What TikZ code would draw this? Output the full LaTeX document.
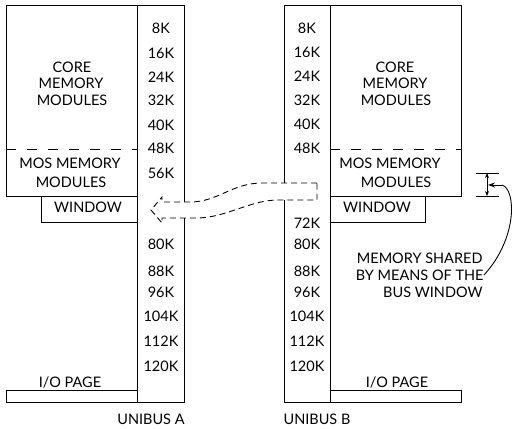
\documentclass[tikz,border=0pt]{standalone}
\usepackage{fontspec}
\setmainfont{Lato}
\usetikzlibrary{arrows.meta}
\begin{document}
\begin{tikzpicture}[x=1pt,y=-1pt,line width=1pt,
  lbl/.style={font=\fontsize{14.5}{16}\selectfont,inner sep=0pt,text height=10.4pt,text depth=0pt},
  box/.style={draw,line width=1pt},
  sep/.style={dash pattern=on 10pt off 11pt},
  flow/.style={dash pattern=on 6pt off 4pt,line width=0.9pt},
  dim/.style={line width=0.9pt}]
\fill[white] (0,0) rectangle (515,429);
\useasboundingbox (0,0) rectangle (515,429);
% ---------- Unibus A side ----------
\node[box,anchor=north west,minimum width=131pt,minimum height=191pt,inner sep=0pt] (coreA) at (6,5) {};
\node[box,anchor=north west,minimum width=96pt,minimum height=26pt,inner sep=0pt] (winA) at (41,196) {};
\node[box,anchor=north west,minimum width=131pt,minimum height=12pt,inner sep=0pt] (ioA) at (6,390) {};
\coordinate (busAtl) at (137,5);
\coordinate (busAtr) at (184,5);
\coordinate (busAbl) at (137,402);
\coordinate (busAbr) at (184,402);
\coordinate (gapAt) at (184,202);
\coordinate (gapAb) at (184,218);
\draw (gapAt) -- (busAtr) -- (busAtl) -- (busAbl) -- (busAbr) -- (gapAb);
\draw[sep] (6,149) -- (137,149);
% ---------- Unibus B side ----------
\node[box,anchor=north west,minimum width=131pt,minimum height=191pt,inner sep=0pt] (coreB) at (330,5) {};
\node[box,anchor=north west,minimum width=95pt,minimum height=26pt,inner sep=0pt] (winB) at (330,196) {};
\node[box,anchor=north west,minimum width=131pt,minimum height=12pt,inner sep=0pt] (ioB) at (330,390) {};
\coordinate (busBtl) at (284,5);
\coordinate (busBtr) at (330,5);
\coordinate (busBbl) at (284,402);
\coordinate (busBbr) at (330,402);
\coordinate (gapBt) at (284,183);
\coordinate (gapBb) at (284,200);
\draw (gapBt) -- (busBtl) -- (busBtr) -- (busBbr) -- (busBbl) -- (gapBb);
\draw[sep] (330,149) -- (461,149);
% ---------- window transfer arrow ----------
\draw[flow] (317,183) -- (gapBt) -- (262,183) .. controls (232,183) and (218,202) .. (190,202) -- (gapAt)
  -- (162,202) -- (162,197) -- (151,210) -- (162,223) -- (162,218) -- (gapAb)
  -- (196,218) .. controls (226,218) and (250,200) .. (278,200) -- (gapBb) -- (317,200) -- cycle;
% ---------- texts A ----------
\node[lbl] (cA1) at (72,67) {CORE};
\node[lbl] (cA2) at (71,83.5) {MEMORY};
\node[lbl] (cA3) at (72,100) {MODULES};
\node[lbl] (mA1) at (70,163) {MOS MEMORY};
\node[lbl] (mA2) at (71,182) {MODULES};
\node[lbl] (wA) at (88,207) {WINDOW};
\node[lbl] (iA) at (70,382) {I/O PAGE};
\node[lbl] (uA) at (151,419) {UNIBUS A};
\foreach \t/\y in {8K/28,16K/53,24K/77,32K/100,40K/125,48K/148,56K/173,80K/244,88K/271,96K/292,104K/316,112K/341,120K/366}
  \node[lbl] (A\t) at (161,\y) {\t};
% ---------- texts B ----------
\node[lbl] (cB1) at (395,67) {CORE};
\node[lbl] (cB2) at (395,83.5) {MEMORY};
\node[lbl] (cB3) at (396,100) {MODULES};
\node[lbl] (mB1) at (390,163) {MOS MEMORY};
\node[lbl] (mB2) at (396,182) {MODULES};
\node[lbl] (wB) at (377,207) {WINDOW};
\node[lbl] (iB) at (397,382) {I/O PAGE};
\node[lbl] (uB) at (317,419) {UNIBUS B};
\foreach \t/\y in {8K/28,16K/52,24K/76,32K/100,40K/124,48K/148,72K/223,80K/244,88K/271,96K/292,104K/316,112K/341,120K/366}
  \node[lbl] (B\t) at (307,\y) {\t};
% ---------- annotation ----------
\node[lbl,anchor=east] (n1) at (483,258) {MEMORY SHARED};
\node[lbl,anchor=east] (n2) at (484,275) {BY MEANS OF THE};
\node[lbl,anchor=east] (n3) at (483,292) {BUS WINDOW};
\coordinate (barTl) at (476,173);
\coordinate (barTr) at (499,173);
\coordinate (barBl) at (476,196);
\coordinate (barBr) at (499,196);
\coordinate (dimT) at (487,173);
\coordinate (dimB) at (487,196);
\coordinate (dimM) at (488,185);
\coordinate (curveS) at (502,185);
\draw[dim] (barTl) -- (barTr);
\draw[dim] (barBl) -- (barBr);
\draw[dim,{Stealth[length=5pt,width=4pt]}-{Stealth[length=5pt,width=4pt]}] (dimT) -- (dimB);
\draw[dim,-{Stealth[length=7pt,width=5pt]}] (curveS) -- (dimM);
\draw[dim] (curveS) .. controls (516,189) and (518,238) .. (n2.east);
\end{tikzpicture}
\end{document}
